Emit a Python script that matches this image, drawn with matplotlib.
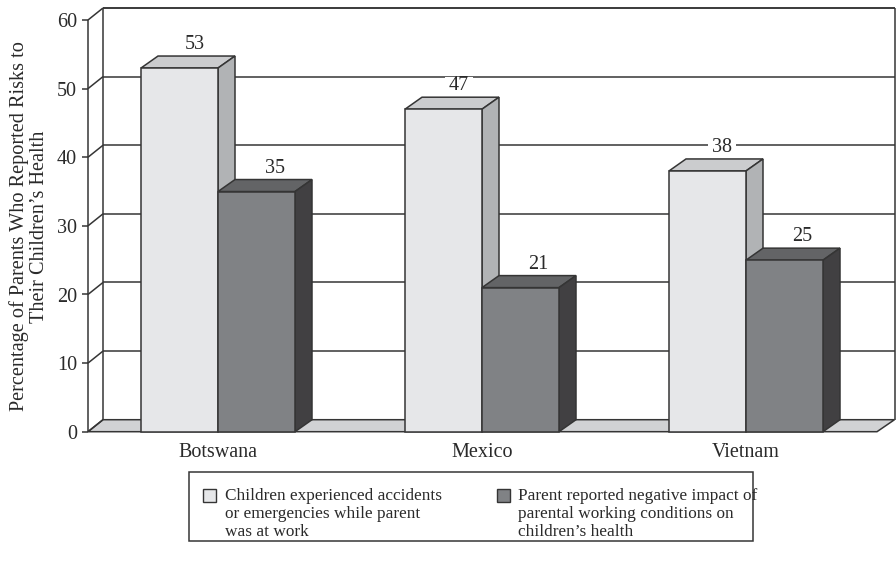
import matplotlib
matplotlib.use("Agg")
import matplotlib.pyplot as plt
from matplotlib.patches import Polygon, Rectangle

plt.rcParams['font.family'] = ['Liberation Serif', 'DejaVu Serif']

countries = ["Botswana", "Mexico", "Vietnam"]
accidents = [53, 47, 38]
negative_impact = [35, 21, 25]
y_ticks = [0, 10, 20, 30, 40, 50, 60]
legend_accidents = "Children experienced accidents\nor emergencies while parent\nwas at work"
legend_impact = "Parent reported negative impact of\nparental working conditions on\nchildren\u2019s health"
y_title = "Percentage of Parents Who Reported Risks to\nTheir Children\u2019s Health"

W, H = 896, 569
LINE = "#353535"
TEXT = "#2a2a2a"
LIGHT = ("#e6e7e9", "#cbccce", "#b1b3b5")  # front, top, side
DARK = ("#808285", "#636466", "#414042")

fig = plt.figure(figsize=(W / 100, H / 100), dpi=100)
fig.patch.set_facecolor("white")

# axes rectangle is the front plane of the 3D box, in pixels
cat_px = 264
left, right, top, bottom = 86, 86 + 3 * cat_px, 20, 431.7
ax = fig.add_axes([left / W, 1 - bottom / H, (right - left) / W, (bottom - top) / H])
ax.set_xlim(0, 3)
ax.set_ylim(0, 60)
ax.axis("off")

unit_y = (bottom - top) / 60


def xu(pixels):
    return pixels / cat_px


floor_l, floor_r = xu(2), xu(791)  # front edge of the floor
wall_l, wall_r = xu(17), xu(808.5)  # back wall
depth_y = 12 / unit_y
bar_dx = xu(17)
bar_w = xu(77)


def poly(points, face, z):
    ax.add_patch(Polygon(points, closed=True, facecolor=face, edgecolor=LINE,
                         linewidth=1.1, joinstyle="miter", zorder=z, clip_on=False))


def line(xs, ys, z=1, lw=1.1):
    ax.plot(xs, ys, color=LINE, lw=lw, zorder=z, clip_on=False, solid_capstyle="butt")


# floor
poly([(floor_l, 0), (floor_r, 0), (wall_r, depth_y), (wall_l, depth_y)], "#d1d2d4", 1)

# walls and gridlines
line([wall_l, wall_l], [depth_y, 60 + depth_y])
line([wall_l, wall_r], [60 + depth_y, 60 + depth_y])
line([wall_r, wall_r], [60 + depth_y, depth_y])
line([floor_l, floor_l], [0, 60])
for t in y_ticks:
    line([floor_l - xu(6), floor_l], [t, t])
    line([floor_l, wall_l], [t, t + depth_y])
    if t > 0:
        line([wall_l, wall_r], [t + depth_y, t + depth_y])
    ax.text(floor_l - xu(11), t - 0.4, str(t), ha="right", va="center", fontsize=14.5, color=TEXT)


def draw_bar(x0, value, colors, z):
    front, top_c, side = colors
    poly([(x0, value), (x0 + bar_w, value), (x0 + bar_w + bar_dx, value + depth_y),
          (x0 + bar_dx, value + depth_y)], top_c, z)
    poly([(x0 + bar_w, 0), (x0 + bar_w + bar_dx, depth_y), (x0 + bar_w + bar_dx, value + depth_y),
          (x0 + bar_w, value)], side, z)
    ax.bar(x0, value, width=bar_w, align="edge", color=front, edgecolor=LINE, linewidth=1.1,
           zorder=z + 0.5, clip_on=False)


def value_label(x, value):
    # white patch sits under the bars and breaks the gridline behind the number
    y0 = value + depth_y + 0.25
    ax.add_patch(Rectangle((x - xu(14), y0), xu(28), 18 / unit_y, facecolor="white",
                           edgecolor="none", zorder=2, clip_on=False))
    ax.text(x, y0, str(value), ha="center", va="bottom", fontsize=14.5, color=TEXT, zorder=9)


for i, name in enumerate(countries):
    center = i + 0.5
    draw_bar(center - bar_w, accidents[i], LIGHT, 3 + i)
    draw_bar(center, negative_impact[i], DARK, 3 + i + 0.7)
    value_label(center - bar_w / 2 + xu(15), accidents[i])
    value_label(center + bar_w / 2 + xu(18), negative_impact[i])
    ax.text(center, -3.1, name, ha="center", va="center", fontsize=14.5, color=TEXT)


def px(x, y):
    return x / W, 1 - y / H


fig.text(*px(29, 226.5), y_title, rotation=90, ha="center", va="center", fontsize=14.6,
         color=TEXT, linespacing=1.1, multialignment="center")

# legend box
fig.add_artist(Rectangle(px(189, 541), 564 / W, 69 / H, transform=fig.transFigure,
                         facecolor="white", edgecolor=LINE, linewidth=1.1))
for sx, tx, face, label in [(203, 225, LIGHT[0], legend_accidents), (497, 518, DARK[0], legend_impact)]:
    fig.add_artist(Rectangle(px(sx, 502), 13 / W, 13 / H, transform=fig.transFigure,
                             facecolor=face, edgecolor=LINE, linewidth=1.0))
    fig.text(*px(tx, 487.5), label, ha="left", va="top", fontsize=12.4, color=TEXT, linespacing=1.2)

fig.savefig("out.png", dpi=100)
